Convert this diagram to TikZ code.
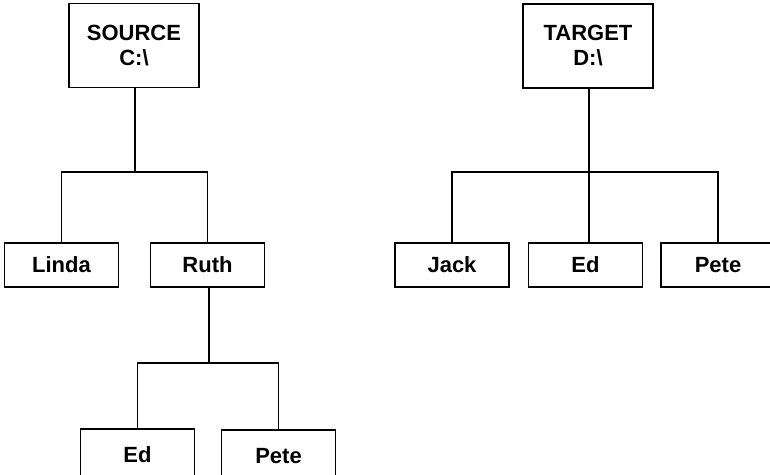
\documentclass[tikz,border=0pt]{standalone}
\usepackage{fontspec}
\setmainfont{Liberation Sans}
\usepackage{tikz}
\tikzstyle{dirbox}=[draw,line width=1.6pt,minimum width=114pt,minimum height=44pt,inner sep=0pt,font=\fontsize{22}{25}\selectfont\bfseries]
\tikzstyle{rootbox}=[dirbox,minimum width=130pt,minimum height=84pt,align=center]
\tikzstyle{edge} = [draw,line width=1.6pt,-]

\begin{document}
\begin{tikzpicture}[x=1pt,y=-1pt]
    \clip (0,0) rectangle (770,474);
    % First the two drives
    \node[rootbox] (src) at (134,45.5) {SOURCE\\C:\textbackslash};
    \node[rootbox] (tgt) at (588,46) {TARGET\\D:\textbackslash};
    % Then the directories below them
    \foreach \pos/\name/\txt in {{(61.5,265)/linda/Linda}, {(207.5,265)/ruth/Ruth},
        {(452,265)/jack/Jack}, {(585.5,265)/edt/Ed}, {(718,265)/petet/Pete}}
        \node[dirbox] (\name) at \pos {\txt};
    % the lowest ones run off the page
    \foreach \pos/\name/\txt in {{(137.5,455)/ed/Ed}, {(278.5,456)/pete/Pete}}
        \node[dirbox,minimum height=52pt] (\name) at \pos {\txt};
    % Branch points of the tree
    \coordinate (srcj) at (135,172);
    \coordinate (ruthj) at (209,363);
    \coordinate (tgtj) at (589,172);
    % Connect the directories
    \path[edge] (src.south -| srcj) -- (srcj);
    \path[edge] (linda) |- (srcj) -| (ruth);
    \path[edge] (ruth.south -| ruthj) -- (ruthj);
    \path[edge] (ed) |- (ruthj) -| (pete);
    \path[edge] (tgt.south -| tgtj) -- (tgtj) -- (edt.north -| tgtj);
    \path[edge] (jack) |- (tgtj) -| (petet);
\end{tikzpicture}
\end{document}
